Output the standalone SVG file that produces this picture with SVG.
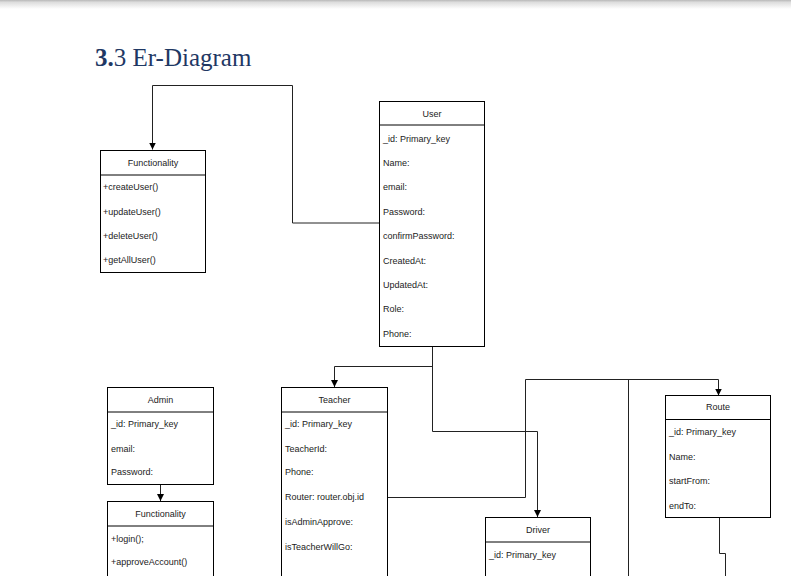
<svg xmlns="http://www.w3.org/2000/svg" width="791" height="576" viewBox="0 0 791 576">
<defs>
<linearGradient id="shadow" x1="0" y1="0" x2="0" y2="1">
<stop offset="0" stop-color="#b8b8b8"/>
<stop offset="0.25" stop-color="#dddddd"/>
<stop offset="1" stop-color="#ffffff"/>
</linearGradient>
<marker id="arr" viewBox="0 0 10 10" refX="10" refY="5" markerWidth="7" markerHeight="7" markerUnits="userSpaceOnUse" orient="auto">
<path d="M0,0 L10,5 L0,10 Z" fill="#000"/>
</marker>
<style>
.box{fill:#fff;stroke:#000;stroke-width:1}
.sep{stroke:#000;stroke-width:1}
.hd{font-family:"Liberation Sans",Arial,sans-serif;font-size:9px;fill:#222;text-anchor:middle}
.at{font-family:"Liberation Sans",Arial,sans-serif;font-size:9px;fill:#222}
.con{fill:none;stroke:#222;stroke-width:1}
.title{font-family:"Liberation Serif","Times New Roman",serif;font-size:25px;fill:#1F3864}
</style>
</defs>
<rect x="0" y="0" width="791" height="576" fill="#fff"/>
<rect x="0" y="0" width="791" height="9" fill="url(#shadow)"/>
<text class="title" x="95" y="66"><tspan font-weight="bold">3.</tspan>3 Er-Diagram</text>

<g id="connectors">
<path class="con" d="M379,223 H292.5 V85.5 H152.5 V149.5" marker-end="url(#arr)"/>
<path class="con" d="M432.5,347 V431.5 H537.5 V517" marker-end="url(#arr)"/>
<path class="con" d="M432.5,366.5 H334.5 V387" marker-end="url(#arr)"/>
<path class="con" d="M387,497.5 H525.5 V379.5 H718.5 V395.5" marker-end="url(#arr)"/>
<path class="con" d="M628.5,379.5 V576"/>
<path class="con" d="M719.5,517 V553.5 H725.5 V576"/>
<path class="con" d="M160.5,485 V501" marker-end="url(#arr)"/>
</g>

<g id="functionality-user">
<rect class="box" x="100.5" y="150.5" width="105" height="122"/>
<line class="sep" x1="100.5" y1="175" x2="205.5" y2="175"/>
<text class="hd" x="153" y="166">Functionality</text>
<text class="at" x="103" y="190">+createUser()</text>
<text class="at" x="103" y="214.5">+updateUser()</text>
<text class="at" x="103" y="239">+deleteUser()</text>
<text class="at" x="103" y="263">+getAllUser()</text>
</g>

<g id="user">
<rect class="box" x="379.5" y="101.5" width="105" height="245"/>
<line class="sep" x1="379.5" y1="125" x2="484.5" y2="125"/>
<text class="hd" x="432" y="117">User</text>
<text class="at" x="383" y="141.5">_id: Primary_key</text>
<text class="at" x="383" y="166">Name:</text>
<text class="at" x="383" y="190">email:</text>
<text class="at" x="383" y="215">Password:</text>
<text class="at" x="383" y="239">confirmPassword:</text>
<text class="at" x="383" y="263.5">CreatedAt:</text>
<text class="at" x="383" y="287.5">UpdatedAt:</text>
<text class="at" x="383" y="312">Role:</text>
<text class="at" x="383" y="336.5">Phone:</text>
</g>

<g id="admin">
<rect class="box" x="107.5" y="387.5" width="106" height="97"/>
<line class="sep" x1="107.5" y1="412" x2="213.5" y2="412"/>
<text class="hd" x="160.5" y="402.5">Admin</text>
<text class="at" x="111" y="426.5">_id: Primary_key</text>
<text class="at" x="111" y="451.5">email:</text>
<text class="at" x="111" y="475">Password:</text>
</g>

<g id="functionality-admin">
<rect class="box" x="107.5" y="501.5" width="106" height="80"/>
<line class="sep" x1="107.5" y1="526" x2="213.5" y2="526"/>
<text class="hd" x="160.5" y="517">Functionality</text>
<text class="at" x="111" y="541.5">+login();</text>
<text class="at" x="111" y="565">+approveAccount()</text>
</g>

<g id="teacher">
<rect class="box" x="281.5" y="387.5" width="106" height="200"/>
<line class="sep" x1="281.5" y1="412" x2="387.5" y2="412"/>
<text class="hd" x="334.5" y="402.5">Teacher</text>
<text class="at" x="285" y="426.5">_id: Primary_key</text>
<text class="at" x="285" y="451.5">TeacherId:</text>
<text class="at" x="285" y="475">Phone:</text>
<text class="at" x="285" y="500">Router: router.obj.id</text>
<text class="at" x="285" y="525">isAdminApprove:</text>
<text class="at" x="285" y="550">isTeacherWillGo:</text>
</g>

<g id="route">
<rect class="box" x="665.5" y="395.5" width="105" height="122"/>
<line class="sep" x1="665.5" y1="419.5" x2="770.5" y2="419.5"/>
<text class="hd" x="718" y="410">Route</text>
<text class="at" x="669" y="435">_id: Primary_key</text>
<text class="at" x="669" y="460">Name:</text>
<text class="at" x="669" y="484">startFrom:</text>
<text class="at" x="669" y="508.5">endTo:</text>
</g>

<g id="driver">
<rect class="box" x="485.5" y="517.5" width="105" height="80"/>
<line class="sep" x1="485.5" y1="542" x2="590.5" y2="542"/>
<text class="hd" x="538" y="532.5">Driver</text>
<text class="at" x="489" y="558">_id: Primary_key</text>
</g>
</svg>
